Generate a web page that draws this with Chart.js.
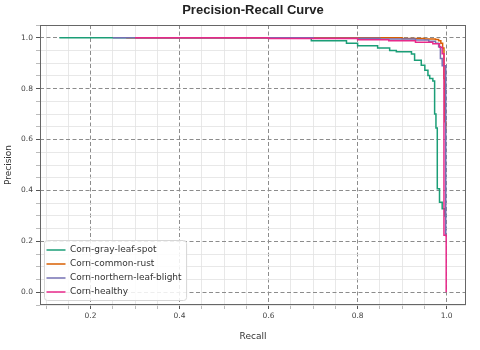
<!DOCTYPE html>
<html>
<head>
<meta charset="utf-8">
<script src="https://cdn.jsdelivr.net/npm/chart.js@4.4.1/dist/chart.umd.min.js"></script>
<style>
  html, body { margin: 0; padding: 0; background: #fff; }
</style>
</head>
<body>
<canvas id="pr" width="480" height="350"></canvas>
<script>
/* ─── Precision-Recall curves, one per class ───────────────────────────
 *  Points are (recall, precision) steps: precision changes to the new
 *  value at the given recall (line goes across, then down).
 * ──────────────────────────────────────────────────────────────────── */

const classNames = ['Corn-gray-leaf-spot', 'Corn-common-rust', 'Corn-northern-leaf-blight', 'Corn-healthy'];
const classColors = ['#1b9e77', '#d95f02', '#7570b3', '#e7298a'];

const grayRecall    = [0.13, 0.696, 0.775, 0.800, 0.845, 0.872, 0.887, 0.921, 0.928, 0.943, 0.951, 0.958, 0.962, 0.969, 0.973, 0.976, 0.979, 0.984, 0.990, 0.996, 1.0];
const grayPrecision = [1.0, 0.988, 0.978, 0.968, 0.960, 0.950, 0.945, 0.936, 0.912, 0.892, 0.872, 0.852, 0.840, 0.830, 0.700, 0.645, 0.407, 0.354, 0.328, 0.300, 0.300];

const rustRecall    = [0.28, 0.90, 0.95, 0.975, 0.982, 0.987, 0.991, 0.994, 0.996, 0.998];
const rustPrecision = [1.0, 0.997, 0.995, 0.993, 0.988, 0.978, 0.960, 0.840, 0.670, 0.640];

const blightRecall    = [0.25, 0.70, 0.85, 0.93, 0.96, 0.975, 0.982, 0.986, 0.990, 0.998];
const blightPrecision = [1.0, 0.998, 0.995, 0.991, 0.986, 0.978, 0.965, 0.918, 0.890, 0.220];

const healthyRecall    = [0.30, 0.60, 0.80, 0.87, 0.93, 0.969, 0.984, 0.990, 0.994, 0.999];
const healthyPrecision = [1.0, 0.997, 0.992, 0.988, 0.982, 0.976, 0.963, 0.937, 0.224, 0.0];

const xRange = [0.0865, 1.0435];
const yRange = [-0.05, 1.05];
const minorStep = 0.05;
const majorStep = 0.2;

/* ── helpers ───────────────────────────────────────────────────────── */
const pts = (rx, py) => rx.map((r, i) => ({ x: r, y: py[i] }));
const onStep = (v, s) => Math.abs(v / s - Math.round(v / s)) < 1e-6;
const isMajor = c => c.tick && onStep(c.tick.value, majorStep);
const isMinor = c => c.tick && onStep(c.tick.value, minorStep);

const tickFont = { family: "'DejaVu Sans', sans-serif", size: 7.5 };
const labelFont = { family: "'DejaVu Sans', sans-serif", size: 9 };

function axis(range, title, titlePad, fit) {
  return {
    type: 'linear',
    min: range[0], max: range[1],
    afterFit: fit,
    ticks: {
      stepSize: minorStep,
      includeBounds: false,
      autoSkip: false,
      maxRotation: 0,
      padding: 3,
      color: '#444',
      font: tickFont,
      callback: v => onStep(v, majorStep) ? (Math.abs(v) < 1e-9 ? 0 : v).toFixed(1) : '',
    },
    grid: {
      z: -1,
      color: c => isMajor(c) ? '#8c8c8c' : isMinor(c) ? '#e2e2e2' : 'transparent',
      lineWidth: c => isMajor(c) ? 1 : 0.8,
      tickColor: c => isMajor(c) ? '#555' : isMinor(c) ? '#aaa' : 'transparent',
      tickLength: 4,
    },
    border: { display: false, dash: c => isMajor(c) ? [4, 2.5] : [] },
    title: { display: true, text: title, color: '#333', font: labelFont, padding: titlePad },
  };
}

/* ── plugins: axes frame + legend box ─────────────────────────────── */
const frame = {
  id: 'frame',
  afterDraw(chart) {
    const { ctx, chartArea: a } = chart;
    ctx.save();
    ctx.strokeStyle = '#666';
    ctx.lineWidth = 1;
    ctx.strokeRect(a.left + 0.5, a.top + 0.5, a.right - a.left - 1, a.bottom - a.top - 1);
    ctx.restore();
  },
};

const legendBox = {
  id: 'legendBox',
  afterUpdate(chart) {
    const lg = chart.legend;
    if (!lg || lg._boxed) return;
    const draw = lg.draw.bind(lg);
    lg.draw = function () {
      const hb = lg.legendHitBoxes;
      if (!hb || !hb.length) return draw();
      const ctx = chart.ctx, a = chart.chartArea;
      const left = Math.min(...hb.map(h => h.left));
      const top = Math.min(...hb.map(h => h.top));
      const right = Math.max(...hb.map(h => h.left + h.width));
      const last = hb[hb.length - 1];
      const dx = a.left + 6.5 - left;
      const dy = a.bottom - 13 - (last.top + last.height / 2);
      const bottom = last.top + last.height;
      ctx.save();
      ctx.translate(dx, dy);
      ctx.beginPath();
      const bx = left - 2, by = top - 5, bw = right - left + 7, bh = bottom - top + 9;
      if (ctx.roundRect) ctx.roundRect(bx, by, bw, bh, 3);
      else ctx.rect(bx, by, bw, bh);
      ctx.fillStyle = 'rgba(255,255,255,0.85)';
      ctx.fill();
      ctx.strokeStyle = '#d6d6d6';
      ctx.lineWidth = 1;
      ctx.stroke();
      draw();
      ctx.restore();
    };
    lg._boxed = true;
  },
};

/* ── chart ─────────────────────────────────────────────────────────── */
const series = [
  pts(grayRecall, grayPrecision),
  pts(rustRecall, rustPrecision),
  pts(blightRecall, blightPrecision),
  pts(healthyRecall, healthyPrecision),
];

new Chart(document.getElementById('pr'), {
  type: 'line',
  data: {
    datasets: series.map((d, i) => ({
      label: classNames[i],
      data: d,
      borderColor: classColors[i],
      backgroundColor: classColors[i],
      borderWidth: 1.5,
      pointRadius: 0,
      stepped: 'before',
      fill: false,
      order: series.length - i,
    })),
  },
  options: {
    responsive: false,
    animation: false,
    layout: { padding: { left: 0, right: 14, top: 0, bottom: 0 } },
    scales: {
      x: axis(xRange, 'Recall', { top: 0, bottom: 7.6 }, s => { s.height = 45; }),
      y: axis(yRange, 'Precision', { top: 3.5, bottom: 0 }, s => { s.width = 40; }),
    },
    plugins: {
      title: {
        display: true,
        fullSize: false,
        text: 'Precision-Recall Curve',
        color: '#222',
        font: { family: "'Liberation Sans', Arial, sans-serif", size: 13, weight: 'bold' },
        padding: { top: 3, bottom: 6.4 },
      },
      legend: {
        position: 'chartArea',
        labels: {
          color: '#333',
          font: labelFont,
          usePointStyle: true,
          pointStyle: 'line',
          pointStyleWidth: 19,
          boxWidth: 22,
          padding: 5,
          sort: (a, b) => a.datasetIndex - b.datasetIndex,
        },
      },
      tooltip: { enabled: false },
    },
  },
  plugins: [legendBox, frame],
});
</script>
</body>
</html>
